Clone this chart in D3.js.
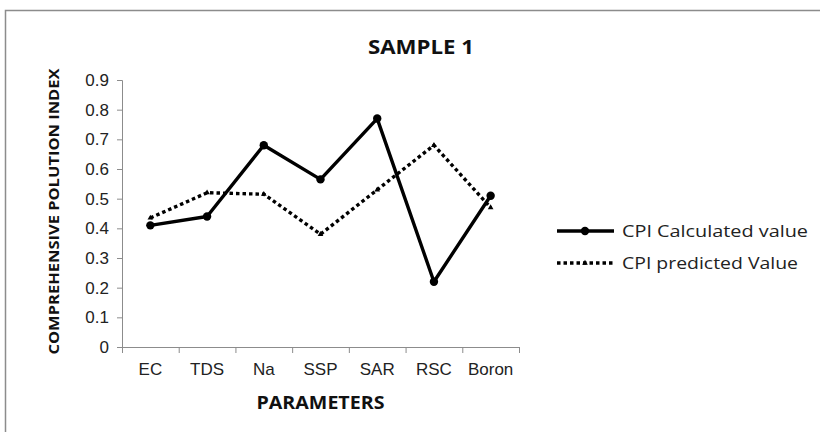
<!DOCTYPE html>
<html>
<head>
<meta charset="utf-8">
<script src="https://cdn.jsdelivr.net/npm/d3@7"></script>
<style>
  body { margin: 0; background: #fff; }
  svg { display: block; font-family: "Open Sans", "Noto Sans", sans-serif; }
</style>
</head>
<body>
<svg id="chart" width="820" height="432"></svg>
<script>
const categories = ['EC', 'TDS', 'Na', 'SSP', 'SAR', 'RSC', 'Boron'];
const calculated = [0.41, 0.44, 0.68, 0.565, 0.77, 0.22, 0.51];
const predicted = [0.435, 0.52, 0.515, 0.38, 0.53, 0.68, 0.47];
const yTicks = [0, 0.1, 0.2, 0.3, 0.4, 0.5, 0.6, 0.7, 0.8, 0.9];
const seriesNames = ['CPI Calculated value', 'CPI predicted Value'];

const svg = d3.select('#chart');
const margin = { top: 80, left: 122, right: 301, bottom: 85 };
const width = +svg.attr('width');
const height = +svg.attr('height');

// outer chart frame (only top and left visible in the crop)
svg.append('path')
  .attr('d', 'M5.5,432 V10.5 H820')
  .attr('fill', 'none')
  .attr('stroke', '#8c8c8c')
  .attr('stroke-width', 1.5);

const x = d3.scaleBand().domain(categories).range([margin.left, width - margin.right]);
const y = d3.scaleLinear().domain([0, 0.9]).range([height - margin.bottom, margin.top]);

const yAxis = svg.append('g')
  .attr('transform', `translate(${margin.left},0)`)
  .call(d3.axisLeft(y).tickValues(yTicks).tickSize(5).tickPadding(8).tickFormat(d => d === 0 ? '0' : d3.format('.1f')(d)));
const xAxis = svg.append('g')
  .attr('transform', `translate(0,${height - margin.bottom})`)
  .call(d3.axisBottom(x).tickSize(0).tickPadding(16));

// band boundary ticks, Excel style
const bounds = categories.map(c => x(c)).concat([x.range()[1]]);
xAxis.selectAll('line.b').data(bounds).enter().append('line')
  .attr('class', 'b')
  .attr('x1', d => d + 0.5).attr('x2', d => d + 0.5)
  .attr('y1', 0).attr('y2', 6);

[xAxis, yAxis].forEach(a => {
  a.selectAll('path, line').attr('stroke', '#8c8c8c').attr('stroke-width', 1);
  a.selectAll('text').attr('fill', '#222').attr('font-size', 17);
});

const cx = d => x(d) + x.bandwidth() / 2;
const line = d3.line().x(d => cx(d.c)).y(d => y(d.v));

const calcData = categories.map((c, i) => ({ c, v: calculated[i] }));
const predData = categories.map((c, i) => ({ c, v: predicted[i] }));

svg.append('path').datum(predData)
  .attr('d', line)
  .attr('fill', 'none').attr('stroke', '#000')
  .attr('stroke-width', 3.4).attr('stroke-dasharray', '3.5,3');
svg.selectAll('path.tri').data(predData).enter().append('path')
  .attr('class', 'tri')
  .attr('d', d3.symbol(d3.symbolTriangle, 14))
  .attr('transform', d => `translate(${cx(d.c)},${y(d.v)})`)
  .attr('fill', '#000');

svg.append('path').datum(calcData)
  .attr('d', line)
  .attr('fill', 'none').attr('stroke', '#000')
  .attr('stroke-width', 3.4).attr('stroke-linejoin', 'round');
svg.selectAll('circle.pt').data(calcData).enter().append('circle')
  .attr('class', 'pt')
  .attr('cx', d => cx(d.c)).attr('cy', d => y(d.v)).attr('r', 4.2)
  .attr('fill', '#000');

// titles
svg.append('text')
  .attr('x', 421).attr('y', 54)
  .attr('text-anchor', 'middle')
  .attr('font-size', 19).attr('font-weight', 'bold').attr('fill', '#111')
  .attr('textLength', 106).attr('lengthAdjust', 'spacingAndGlyphs')
  .text('SAMPLE 1');
svg.append('text')
  .attr('x', (x.range()[0] + x.range()[1]) / 2).attr('y', 409)
  .attr('text-anchor', 'middle')
  .attr('font-size', 17).attr('font-weight', 'bold').attr('fill', '#111')
  .attr('textLength', 128).attr('lengthAdjust', 'spacingAndGlyphs')
  .text('PARAMETERS');
svg.append('text')
  .attr('transform', `translate(59,${(y(0) + y(0.9)) / 2 - 2}) rotate(-90)`)
  .attr('text-anchor', 'middle')
  .attr('font-size', 15).attr('font-weight', 'bold').attr('fill', '#111')
  .attr('textLength', 286).attr('lengthAdjust', 'spacingAndGlyphs')
  .text('COMPREHENSIVE POLUTION INDEX');

// legend
const legendWidths = [186, 176];
const legend = svg.append('g').attr('transform', 'translate(557,231)');
seriesNames.forEach((name, i) => {
  const g = legend.append('g').attr('transform', `translate(0,${i * 32})`);
  g.append('line')
    .attr('x1', 0).attr('x2', 57).attr('y1', 0).attr('y2', 0)
    .attr('stroke', '#000').attr('stroke-width', 3.4)
    .attr('stroke-dasharray', i === 0 ? null : '3.5,3');
  if (i === 0) {
    g.append('circle').attr('cx', 28).attr('cy', 0).attr('r', 4.2).attr('fill', '#000');
  } else {
    g.append('path').attr('d', d3.symbol(d3.symbolTriangle, 14)).attr('transform', 'translate(28,0)').attr('fill', '#000');
  }
  g.append('text')
    .attr('x', 65).attr('y', 0).attr('dy', '0.36em')
    .attr('font-size', 17).attr('fill', '#222')
    .attr('textLength', legendWidths[i]).attr('lengthAdjust', 'spacingAndGlyphs')
    .text(name);
});
</script>
</body>
</html>
